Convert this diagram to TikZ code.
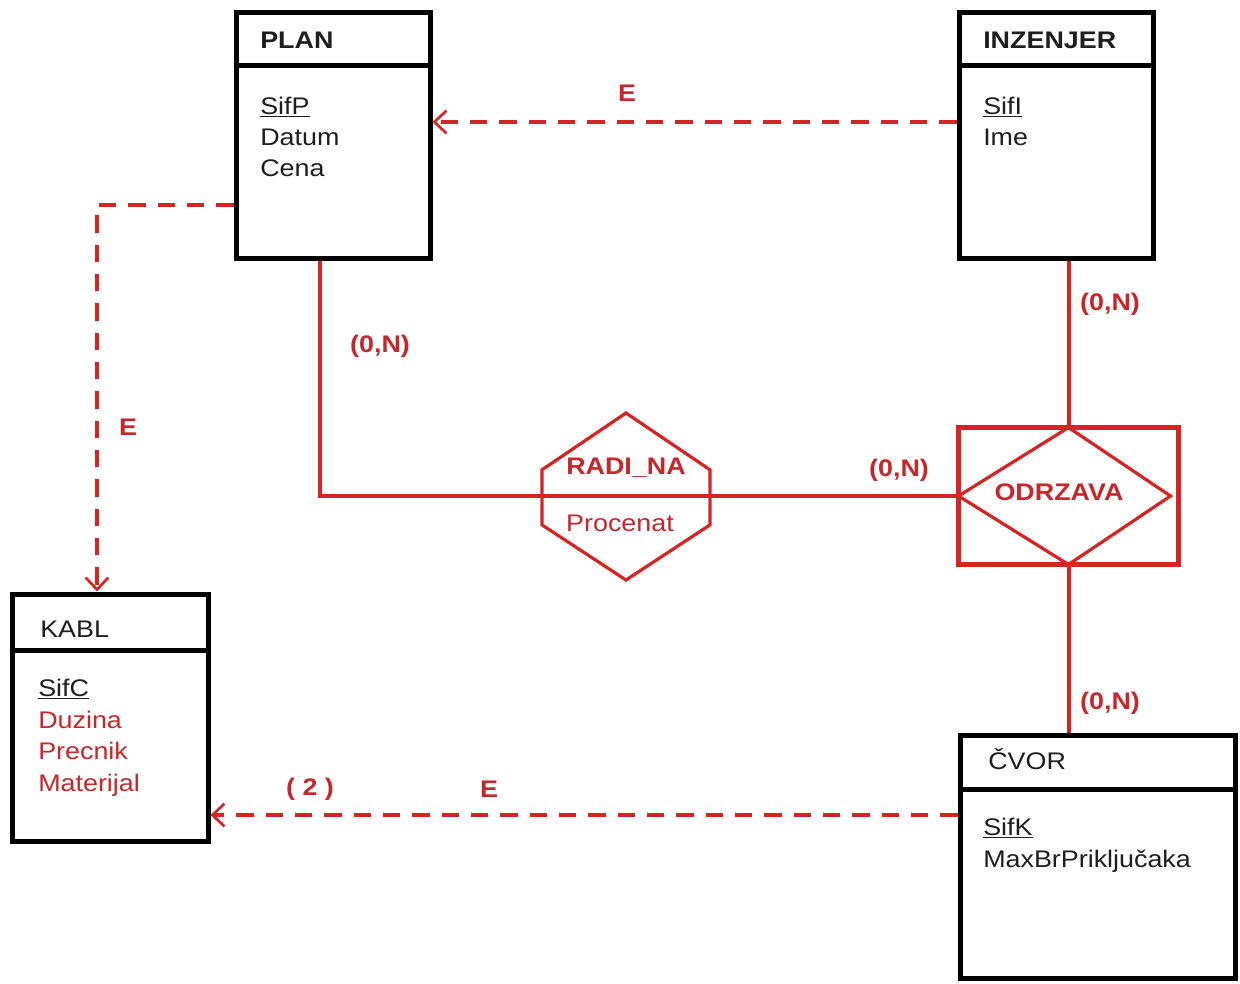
\documentclass[tikz,border=0pt]{standalone}
\usepackage{fontspec}
\setmainfont{Liberation Sans}[FakeStretch=1.12]
\usetikzlibrary{arrows.meta,calc}
\definecolor{rl}{RGB}{212,36,36}
\definecolor{rt}{RGB}{196,40,44}
\definecolor{tx}{RGB}{30,30,30}
\begin{document}
\begin{tikzpicture}[x=0.75pt,y=-0.75pt,
 ent/.style={draw=black,line width=3.75pt,inner sep=0pt},
 divl/.style={draw=black,line width=3.75pt},
 hdr/.style={anchor=base west,inner sep=0pt,font=\fontsize{18}{22}\selectfont,text=tx},
 att/.style={anchor=base west,inner sep=0pt,font=\fontsize{18}{22}\selectfont,text=tx},
 ratt/.style={att,text=rt},
 lbl/.style={text=rt,font=\fontsize{18}{22}\selectfont\bfseries,inner sep=0pt},
 rel/.style={draw=rl,line width=3pt},
 relshape/.style={draw=rl,line width=2.4pt,line join=miter},
 dsh/.style={draw=rl,line width=3pt,dash pattern=on 13pt off 9pt,-{Straight Barb[length=9pt,width=17pt,line width=2pt]}}
]
\useasboundingbox (0,0) rectangle (1240,983);
\fill[white] (0,0) rectangle (1240,983);

% entities
\node[ent,minimum width=145.5pt,minimum height=184.5pt] (plan) at (333,135) {};
\draw[divl] (plan.west |- 0,65) -- (plan.east |- 0,65);
\node[hdr,font=\fontsize{18}{22}\selectfont\bfseries] (planh) at (260,48) {PLAN};
\node[att] (p1) at (260,114) {\underline{SifP}};
\node[att] (p2) at (260,145) {Datum};
\node[att] (p3) at (260,176) {Cena};

\node[ent,minimum width=145.5pt,minimum height=184.5pt] (inz) at (1056,135) {};
\draw[divl] (inz.west |- 0,65) -- (inz.east |- 0,65);
\node[hdr,font=\fontsize{18}{22}\selectfont\bfseries] (inzh) at (983,48) {INZENJER};
\node[att] (i1) at (983,114) {\underline{SifI}};
\node[att] (i2) at (983,145) {Ime};

\node[ent,minimum width=147pt,minimum height=185.25pt] (kabl) at (110,717.5) {};
\draw[divl] (kabl.west |- 0,650) -- (kabl.east |- 0,650);
\node[hdr] (kablh) at (40,637) {KABL};
\node[att] (k1) at (38,696) {\underline{SifC}};
\node[ratt] (k2) at (38,728) {Duzina};
\node[ratt] (k3) at (38,759) {Precnik};
\node[ratt] (k4) at (38,791) {Materijal};

\node[ent,minimum width=206.25pt,minimum height=182.25pt] (cvor) at (1097.5,856.5) {};
\draw[divl] (cvor.west |- 0,789) -- (cvor.east |- 0,789);
\node[hdr] (cvorh) at (988,769) {ČVOR};
\node[att] (c1) at (983,835) {\underline{SifK}};
\node[att] (c2) at (983,867) {MaxBrPriključaka};

% relationships
\node[minimum width=126pt,minimum height=125.25pt,inner sep=0pt,outer sep=0pt] (radi) at (626,496.5) {};
\node[draw=rl,line width=3.75pt,minimum width=165pt,minimum height=102.75pt,inner sep=0pt,outer sep=0pt] (odr) at (1068.5,496) {};

\draw[rel] ([xshift=-9.75pt]plan.south) |- (odr.west);
\draw[rel] (inz.south -| odr.north) -- (odr.north);
\draw[rel] (odr.south) -- (cvor.north -| odr.south);

\draw[relshape] (radi.north) -- ($(radi.north east)!.34!(radi.south east)$) -- ($(radi.north east)!.67!(radi.south east)$) -- (radi.south) -- ($(radi.north west)!.67!(radi.south west)$) -- ($(radi.north west)!.34!(radi.south west)$) -- cycle;
\draw[relshape] (odr.west) -- (odr.north) -- ([xshift=-6pt]odr.east) -- (odr.south) -- cycle;

\node[lbl] (radit) at (626,468) {RADI\_NA};
\node[text=rt,font=\fontsize{18}{22}\selectfont,inner sep=0pt] (proc) at (620,523) {Procenat};
\node[lbl] (odrt) at (1059,492) {ODRZAVA};

% dashed connectors
\draw[dsh] ([yshift=9.75pt]inz.west) -- ([yshift=9.75pt]plan.east);
\draw[dsh] ([yshift=-52.5pt]plan.west) -| ([xshift=-9.75pt]kabl.north);
\coordinate (cv) at ([yshift=31.1pt]cvor.west);
\draw[dsh] (cv) -- (cv -| kabl.east);

% labels
\node[lbl] (e1) at (627,93) {E};
\node[lbl] (n1) at (380,346) {(0,N)};
\node[lbl] (n2) at (1110,304) {(0,N)};
\node[lbl] (n3) at (899,470) {(0,N)};
\node[lbl] (n4) at (1110,703) {(0,N)};
\node[lbl] (e2) at (128,427) {E};
\node[lbl] (two) at (310,789) {( 2 )};
\node[lbl] (e3) at (489,789) {E};
\end{tikzpicture}
\end{document}
